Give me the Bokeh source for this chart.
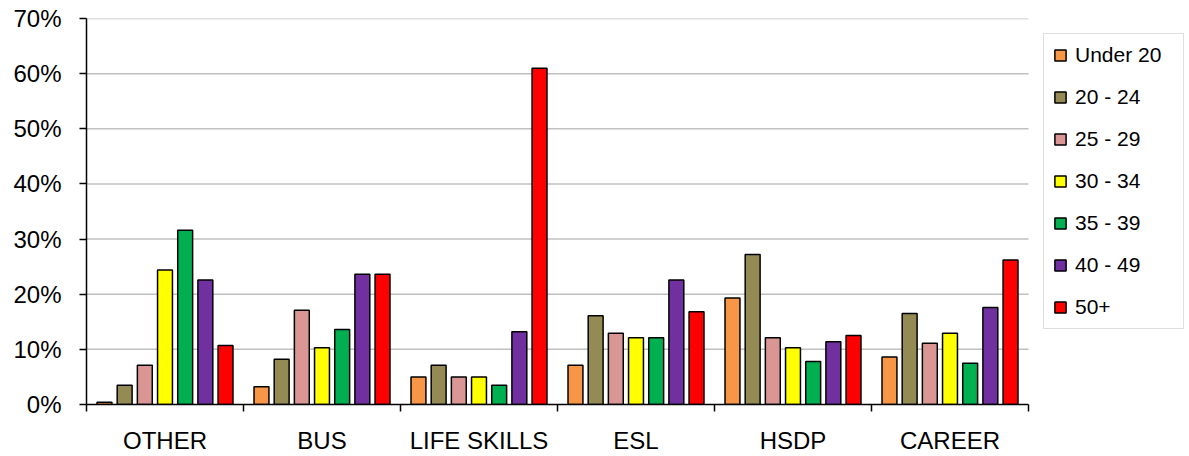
from bokeh.plotting import figure
from bokeh.models import (Range1d, FixedTicker, NumeralTickFormatter, Legend, LegendItem,
                          ColumnDataSource)
from bokeh.embed import file_html
from bokeh.resources import INLINE

categories = ["OTHER", "BUS", "LIFE SKILLS", "ESL", "HSDP", "CAREER"]
series = ["Under 20", "20 - 24", "25 - 29", "30 - 34", "35 - 39", "40 - 49", "50+"]
colors = ["#F79646", "#948A54", "#D99694", "#FFFF00", "#00B050", "#7030A0", "#FF0000"]

under_20 = [0.4, 3.2, 5.0, 7.1, 19.3, 8.6]
age_20_24 = [3.5, 8.2, 7.1, 16.1, 27.2, 16.5]
age_25_29 = [7.1, 17.1, 5.0, 12.9, 12.1, 11.1]
age_30_34 = [24.4, 10.3, 5.0, 12.1, 10.3, 12.9]
age_35_39 = [31.6, 13.6, 3.5, 12.1, 7.8, 7.5]
age_40_49 = [22.6, 23.6, 13.2, 22.6, 11.4, 17.6]
age_50_plus = [10.7, 23.6, 61.0, 16.8, 12.5, 26.2]

values = [under_20, age_20_24, age_25_29, age_30_34, age_35_39, age_40_49, age_50_plus]

y_ticks = [0, 0.1, 0.2, 0.3, 0.4, 0.5, 0.6, 0.7]

FONT = "Liberation Sans"

W, H = 1189, 456
LEFT, TOP, BOTTOM = 86, 18, 50
PLOT_W = 942  # width of the category area in px
frame_w = W - LEFT
n = len(categories)
x_end = n * frame_w / PLOT_W  # frame extends to the right to host the legend

p = figure(width=W, height=H, output_backend="svg", toolbar_location=None,
           x_range=Range1d(0, x_end), y_range=Range1d(0, 0.7),
           min_border_left=LEFT, min_border_right=0, min_border_top=TOP,
           min_border_bottom=BOTTOM)
p.outline_line_color = None
p.background_fill_color = "white"
p.border_fill_color = "white"

# horizontal grid lines restricted to the category area
p.xgrid.grid_line_color = None
p.ygrid.grid_line_color = None
p.segment(x0=[0] * len(y_ticks[1:]), x1=[n] * len(y_ticks[1:]),
          y0=y_ticks[1:], y1=y_ticks[1:], line_color="#C0C0C0", line_width=1.5)

step = 0.1285
bw = 0.095
items = []
for j, (name, col, vals) in enumerate(zip(series, colors, values)):
    src = ColumnDataSource(dict(
        x=[i + 0.5 + (j - 3) * step for i in range(n)],
        top=[v / 100 for v in vals],
    ))
    r = p.vbar(x="x", top="top", width=bw, bottom=0, source=src,
               fill_color=col, line_color="black", line_width=1.5)
    items.append(LegendItem(label=name, renderers=[r]))

# x axis: labels at centres, ticks at group boundaries (minor ticks)
xa = p.xaxis[0]
xa.bounds = (0, n)
xa.ticker = FixedTicker(ticks=[i + 0.5 for i in range(n)],
                        minor_ticks=list(range(n + 1)))
xa.major_label_overrides = {i + 0.5: c for i, c in enumerate(categories)}
xa.major_tick_out = 0
xa.major_tick_in = 0
xa.minor_tick_out = 7
xa.minor_tick_in = 0
xa.minor_tick_line_color = "black"
xa.minor_tick_line_width = 1.5
xa.axis_line_color = "black"
xa.axis_line_width = 1.5
xa.major_label_text_font = FONT
xa.major_label_text_font_size = "24px"
xa.major_label_text_color = "black"
xa.major_label_standoff = 15

ya = p.yaxis[0]
ya.ticker = FixedTicker(ticks=y_ticks)
ya.formatter = NumeralTickFormatter(format="0%")
ya.major_tick_out = 7
ya.major_tick_in = 0
ya.minor_tick_line_color = None
ya.major_tick_line_color = "black"
ya.major_tick_line_width = 1.5
ya.axis_line_color = "black"
ya.axis_line_width = 1.5
ya.major_label_text_font = FONT
ya.major_label_text_font_size = "24px"
ya.major_label_text_color = "black"
ya.major_label_standoff = 18

legend = Legend(items=items, location=(957, 75), orientation="vertical")
legend.border_line_color = "#BFBFBF"
legend.border_line_width = 1.5
legend.background_fill_color = "white"
legend.background_fill_alpha = 1.0
legend.label_text_font = FONT
legend.label_text_font_size = "21px"
legend.label_text_color = "black"
legend.glyph_width = 14
legend.glyph_height = 14
legend.label_height = 22
legend.label_width = 99
legend.spacing = 18
legend.padding = 9
legend.margin = 0
legend.label_standoff = 8
p.add_layout(legend, "center")

open("out.html", "w").write(file_html(p, INLINE))
